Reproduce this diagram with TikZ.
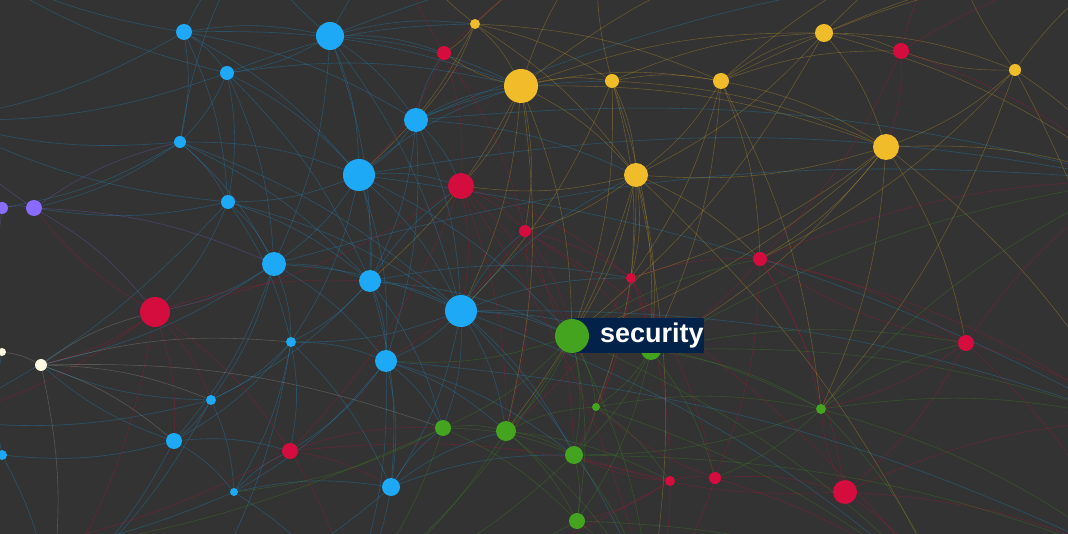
\documentclass[tikz,border=0pt]{standalone}
\usepackage{fontspec}
\setsansfont{Liberation Sans}
\usetikzlibrary{backgrounds}
\pgfdeclarelayer{edges}
\pgfsetlayers{background,edges,main}

\definecolor{bgdark}{HTML}{333333}
\definecolor{nodeblue}{HTML}{1DA9F5}
\definecolor{nodeyellow}{HTML}{F0BC2A}
\definecolor{nodered}{HTML}{D50D3E}
\definecolor{nodegreen}{HTML}{45A41F}
\definecolor{nodepurple}{HTML}{8A6BFF}
\definecolor{nodecream}{HTML}{FDF8E1}
\definecolor{tagnavy}{HTML}{03224A}

\begin{document}
\begin{tikzpicture}[x=1pt,y=-1pt,
        dot/.style={circle,inner sep=0pt,draw=none},
        link/.style={line width=0.6pt,opacity=0.27},
        tag/.style={fill=tagnavy,text=white,inner xsep=0pt,inner ysep=0pt,
                    minimum height=35pt,font=\sffamily\bfseries\fontsize{27}{31}\selectfont}]
    % frame
        \useasboundingbox (0,0) rectangle (1068,534);
        \begin{pgfonlayer}{background}
            \fill[bgdark] (0,0) rectangle (1068,534);
        \end{pgfonlayer}
    % points outside the frame
        \foreach \n/\x/\y in {o1/-50/-50, o2/250/-60, o3/600/-60, o4/950/-60,
                              o5/1130/180, o6/1130/420, o7/950/600, o8/650/600,
                              o9/350/600, o10/50/600, o11/-60/420, o12/-60/120,
                              o13/1130/-40, o14/-60/560, o15/800/-60, o16/400/-60,
                              o17/1130/560, o18/200/600}
            \coordinate (\n) at (\x,\y);
    % nodes
        \foreach \n/\x/\y/\r in {b1/184/32/8, b2/330/36/14, b3/227/73/7, b4/416/120/12,
                                 b5/180/142/6, b6/359/175/16, b7/228/202/7, b8/274/264/12,
                                 b9/370/281/11, b10/461/311/16, b11/291/342/5, b12/386/361/11,
                                 b13/211/400/5, b14/174/441/8, b15/2/455/5, b16/234/492/4,
                                 b17/391/487/9}
            \node[dot,fill=nodeblue,minimum size=2*\r pt] (\n) at (\x,\y) {};
        \foreach \n/\x/\y/\r in {y1/475/24/5, y2/521/86/17, y3/612/81/7, y4/721/81/8,
                                 y5/824/33/9, y6/1015/70/6, y7/886/147/13, y8/636/175/12}
            \node[dot,fill=nodeyellow,minimum size=2*\r pt] (\n) at (\x,\y) {};
        \foreach \n/\x/\y/\r in {r1/444/53/7, r2/901/51/8, r3/461/186/13, r4/525/231/6,
                                 r5/631/278/5, r6/760/259/7, r7/155/312/15, r8/966/343/8,
                                 r9/290/451/8, r10/670/481/5, r11/715/478/6, r12/845/492/12}
            \node[dot,fill=nodered,minimum size=2*\r pt] (\n) at (\x,\y) {};
        \foreach \n/\x/\y/\r in {g2/651/350/10, g3/443/428/8, g4/506/431/10, g5/596/407/4,
                                 g6/821/409/5, g7/574/455/9, g8/577/521/8}
            \node[dot,fill=nodegreen,minimum size=2*\r pt] (\n) at (\x,\y) {};
        \foreach \n/\x/\y/\r in {p1/2/208/6, p2/34/208/8}
            \node[dot,fill=nodepurple,minimum size=2*\r pt] (\n) at (\x,\y) {};
        \foreach \n/\x/\y/\r in {w1/2/352/4, w2/41/365/6}
            \node[dot,fill=nodecream,minimum size=2*\r pt] (\n) at (\x,\y) {};
    % hovered node and its tag
        \node[tag,anchor=west] (sectag) at (572,336) {\hspace{28pt}security\hspace{4pt}};
        \node[dot,fill=nodegreen,minimum size=34pt] (g1) at (sectag.west) {};
    % edges
        \begin{pgfonlayer}{edges}
            \foreach \a/\b in {b1/b2, b1/b3, b1/b5, b1/b7, b1/o1, b1/o2, b1/b6, b1/y2,
                               b2/b3, b2/b4, b2/b6, b2/y1, b2/r1, b2/y2, b2/o2, b2/b10, b2/b8,
                               b3/b5, b3/b6, b3/b7, b3/b9, b3/o12, b3/y2,
                               b4/b6, b4/b10, b4/r3, b4/y2, b4/b9, b4/r1, b4/y8, b4/b12,
                               b5/b7, b5/b8, b5/p2, b5/b6, b5/o12, b5/b10,
                               b6/b7, b6/b8, b6/b9, b6/b10, b6/r3, b6/b12, b6/y2, b6/g1, b6/b11,
                               b7/b8, b7/b9, b7/p2, b7/r7, b7/b10,
                               b8/b9, b8/b10, b8/b11, b8/r7, b8/b12, b8/b13, b8/w2,
                               b9/b10, b9/b12, b9/b11, b9/g1, b9/r3, b9/b17,
                               b10/b12, b10/g1, b10/g3, b10/g4, b10/r4, b10/b17, b10/y8,
                               b10/o8, b10/g7, b10/r5,
                               b11/b12, b11/b13, b11/b14, b11/r9, b11/b16,
                               b12/b17, b12/g3, b12/g4, b12/r9, b12/o9,
                               b13/b14, b13/b16, b13/w2, b14/b15, b14/b16, b14/o10, b14/w2,
                               b15/o11, b15/w1, b15/o10, b16/b17, b16/o9, b16/r9,
                               b17/g3, b17/o9, b17/g4, b6/o5, b4/o5, b10/o6,
                               b1/o12, b1/b4, b2/o16, b2/b9, b3/b8, b3/o1, b4/y3, b5/b9,
                               b5/p1, b7/b11, b7/o12, b8/b14, b9/b13, b9/g3, b10/g2, b10/b11,
                               b11/b17, b12/g7, b12/b16, b13/o11, b14/r9, b16/o14, b17/g7,
                               b17/o18, b10/o7, b6/o6, b2/o15, b4/o13, b8/o5, b12/o17,
                               b9/r5, b3/y1, b7/o11, b11/o18, b13/o10, b5/o2}
                \draw[link,nodeblue] (\a) to[bend left=10] (\b);
            \foreach \a/\b in {y1/y2, y1/y3, y1/r1, y1/o3, y1/y8, y1/b4,
                               y2/y3, y2/y4, y2/y8, y2/r3, y2/r4, y2/g1, y2/r1, y2/y7, y2/o3,
                               y3/y4, y3/y8, y3/y5, y3/r5, y3/g1,
                               y4/y5, y4/y7, y4/y8, y4/r6, y4/r5, y4/o4, y4/g2,
                               y5/y6, y5/r2, y5/y7, y5/o4, y5/y8,
                               y6/y7, y6/r2, y6/o5, y6/o4, y6/g6, y6/o6,
                               y7/y8, y7/r6, y7/g6, y7/r8, y7/o5, y7/g1, y7/g2,
                               y8/r4, y8/r5, y8/g1, y8/g2, y8/r6, y8/g4, y2/b9, y3/b10,
                               y1/o16, y1/y4, y2/o15, y2/y5, y3/y7, y3/o3, y4/r2, y4/o13,
                               y5/o13, y5/o5, y6/o13, y7/o6, y8/g5, y8/r3, y8/o7, y2/g4,
                               y3/g2, y7/r5, y6/r6, y5/g1, y4/g6, y8/o8, y2/b10, y1/b6}
                \draw[link,nodeyellow] (\a) to[bend left=10] (\b);
            \foreach \a/\b in {r1/r3, r1/o3, r1/b6, r2/y7, r2/o4, r2/o5,
                               r3/r4, r3/r5, r3/r7, r3/g1, r3/g4,
                               r4/r5, r4/g1, r4/g2, r4/b12,
                               r5/r6, r5/g2, r5/g5, r5/r10, r5/g7,
                               r6/r8, r6/g6, r6/r12, r6/o5,
                               r7/w2, r7/p2, r7/r9, r7/b13, r7/o11, r7/b9,
                               r8/r12, r8/g6, r8/o6, r8/o5,
                               r9/r10, r9/g3, r9/o9, r10/r11, r10/g7, r10/g8, r10/o8,
                               r11/r12, r11/g5, r11/o7, r12/o7, r12/g6, r12/o6,
                               r1/r4, r1/o16, r2/o13, r2/r6, r3/b10, r3/r9, r4/g4, r4/g7,
                               r5/r11, r5/g4, r6/r11, r6/g2, r7/b14, r7/o10, r8/o17, r8/r6,
                               r9/b17, r9/o14, r10/o9, r11/o8, r12/o17, r12/g7, r3/o8,
                               r4/o7, r6/o6}
                \draw[link,nodered] (\a) to[bend left=10] (\b);
            \foreach \a/\b in {g1/g2, g1/g3, g1/g4, g1/g5, g1/g7, g1/g6, g1/g8, g1/b12,
                               g2/g5, g2/g6, g2/r11, g2/g7, g2/o6,
                               g3/g4, g3/g7, g3/g8, g3/o9, g4/g5, g4/g7, g4/g8, g4/o8,
                               g5/g6, g5/g7, g5/r10, g6/o6, g6/r8, g6/o7, g6/g7,
                               g7/g8, g7/o8, g8/o8, g8/o7, g6/o5, g1/o8,
                               g1/o7, g1/r6, g1/o9, g2/o5, g2/g8, g3/o14, g4/o9, g5/o7,
                               g6/o17, g7/o9, g8/o9, g3/b16, g6/r11, g2/r8, g7/o17, g4/r10}
                \draw[link,nodegreen] (\a) to[bend left=10] (\b);
            \foreach \a/\b in {p1/p2, p1/o12, p1/o11, p2/b5, p2/r7, p2/b8, p2/o12}
                \draw[link,nodepurple] (\a) to[bend left=10] (\b);
            \foreach \a/\b in {w1/w2, w1/o11, w2/r7, w2/b14, w2/o10, w2/b13, w2/g3, w2/b11}
                \draw[link,nodecream,opacity=0.18] (\a) to[bend left=10] (\b);
        \end{pgfonlayer}
\end{tikzpicture}
\end{document}
